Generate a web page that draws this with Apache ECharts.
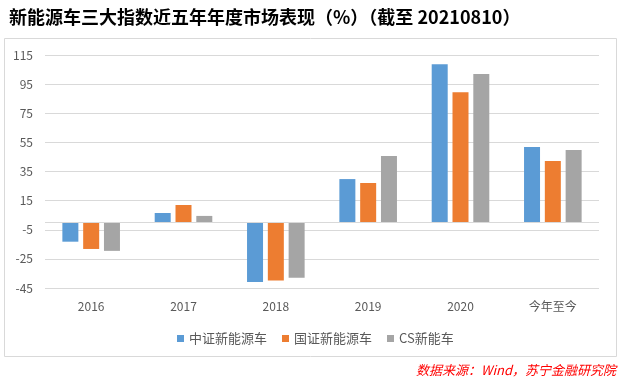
<!DOCTYPE html>
<html><head><meta charset="utf-8">
<script src="https://cdn.jsdelivr.net/npm/echarts@6/dist/echarts.min.js"></script>
<style>html,body{margin:0;padding:0;background:#fff;}#c{width:620px;height:382px;}</style>
</head><body><div id="c"></div>
<script>
const categories = ['2016','2017','2018','2019','2020','今年至今'];
const seriesNames = ['中证新能源车','国证新能源车','CS新能车'];
const csiNEV = [-13.2, 6.5, -40.8, 29.8, 108.7, 51.8];
const cniNEV = [-18.2, 12.0, -39.9, 27.1, 89.5, 42.2];
const csNEV = [-19.5, 4.5, -38.0, 45.6, 101.9, 49.7];
const colors = ['#5b9bd5','#ed7d31','#a5a5a5'];
const yMin = -45, yMax = 115, yStep = 20;

const chart = echarts.init(document.getElementById('c'));
const font = '"Noto Sans CJK SC","Noto Sans",sans-serif';
const mk = (name, data, i) => ({
  name, type:'bar', data, barWidth:16, barGap:'30%',
  itemStyle:{color:colors[i]},
  markLine: i===0 ? {silent:true, symbol:'none', label:{show:false},
    lineStyle:{color:'#d9d9d9', type:'solid', width:1}, data:[{yAxis:0}]} : undefined
});
chart.setOption({
  animation:false,
  textStyle:{fontFamily:font},
  title:{text:'新能源车三大指数近五年年度市场表现（%）（截至 20210810）', left:4, top:3,
    textStyle:{fontSize:18, fontWeight:'bold', color:'#000', fontFamily:font}},
  graphic:[
    {type:'rect', shape:{x:4.5,y:38.5,width:612,height:318}, style:{fill:'none', stroke:'#d9d9d9', lineWidth:1}, z:-1},
    {type:'text', right:4, top:364, style:{text:'数据来源：Wind，苏宁金融研究院', fill:'#ff0000', font:'italic 13px '+font}}
  ],
  legend:{data:seriesNames, left:172, top:327, icon:'rect', itemWidth:7, itemHeight:7, itemGap:15,
    textStyle:{fontSize:13, color:'#595959'}},
  grid:{left:45, right:21, top:55, bottom:94},
  xAxis:{type:'category', data:categories, axisLine:{show:false}, axisTick:{show:false},
    axisLabel:{color:'#595959', fontSize:12, margin:12}},
  yAxis:{type:'value', min:yMin, max:yMax, interval:yStep,
    axisLine:{show:false}, axisTick:{show:false},
    axisLabel:{color:'#595959', fontSize:12, margin:12},
    splitLine:{lineStyle:{color:'#d9d9d9', width:1}}},
  series:[mk(seriesNames[0], csiNEV, 0), mk(seriesNames[1], cniNEV, 1), mk(seriesNames[2], csNEV, 2)]
});
</script></body></html>
